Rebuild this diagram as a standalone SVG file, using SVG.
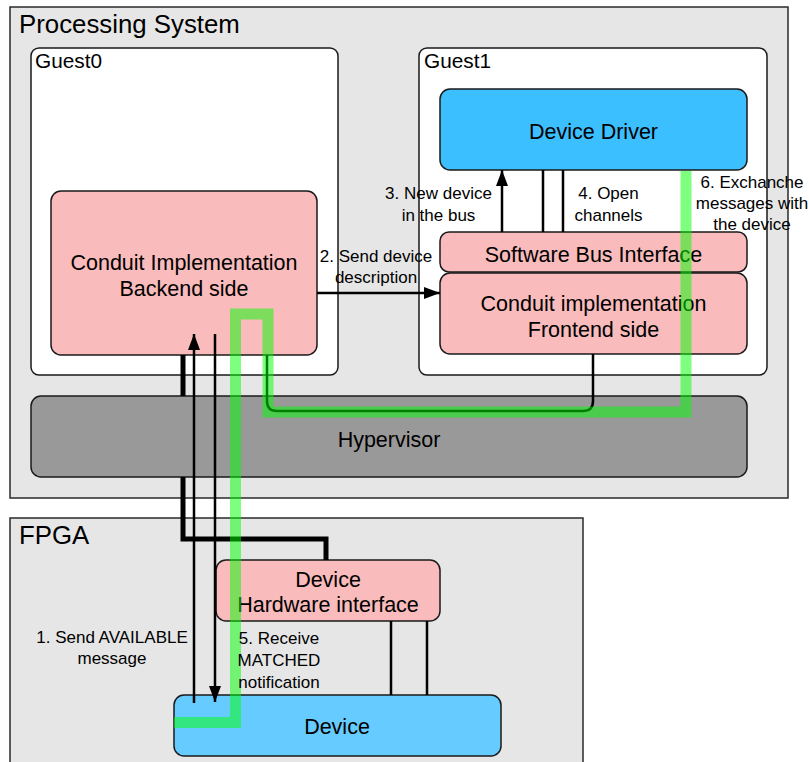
<svg xmlns="http://www.w3.org/2000/svg" width="809" height="762" viewBox="0 0 809 762">
<defs>
<style>
text{font-family:"Liberation Sans",Arial,Helvetica,sans-serif;fill:#000}
.big{font-size:25.8px}
.guest{font-size:20.8px}
.lbl{font-size:21.5px;text-anchor:middle}
.sm{font-size:17px;text-anchor:middle}
.cont{fill:#e6e6e6;stroke:#2a2a2a;stroke-width:1.5}
.gbox{fill:#ffffff;stroke:#1a1a1a;stroke-width:1.5}
.pink{fill:#f9bbbb;stroke:#1a1a1a;stroke-width:1.5}
.blue{fill:#3cbfff;stroke:#1a1a1a;stroke-width:1.5}
.lblue{fill:#66ccff;stroke:#1a1a1a;stroke-width:1.5}
.hyp{fill:#999999;stroke:#1a1a1a;stroke-width:1.5}
.ln{fill:none;stroke:#000;stroke-width:2.5}
.thick{fill:none;stroke:#000;stroke-width:5}
.green{fill:none;stroke:#00ff00;stroke-opacity:0.5;stroke-width:11;stroke-linejoin:miter}
</style>
<marker id="ah" markerUnits="userSpaceOnUse" markerWidth="16" markerHeight="12" refX="16" refY="6" orient="auto">
<path d="M0,0 L16,6 L0,12 Z" fill="#000"/>
</marker>
</defs>

<g id="processing-system">
<rect class="cont" x="10" y="7" width="778" height="491"/>
<text class="big" x="19" y="33">Processing System</text>
</g>
<g id="guest0">
<rect class="gbox" x="31" y="48" width="307" height="327" rx="8"/>
<text class="guest" x="35" y="68">Guest0</text>
</g>
<g id="guest1">
<rect class="gbox" x="419" y="48" width="348" height="327" rx="8"/>
<text class="guest" x="424" y="68">Guest1</text>
</g>
<g id="conduit-backend">
<rect class="pink" x="51" y="191" width="266" height="164" rx="10"/>
<text class="lbl" x="184" y="270">Conduit Implementation</text>
<text class="lbl" x="184" y="296">Backend side</text>
</g>
<g id="device-driver">
<rect class="blue" x="440" y="89" width="307" height="81" rx="10"/>
<text class="lbl" x="593.5" y="139">Device Driver</text>
</g>
<g id="software-bus-interface">
<rect class="pink" x="440" y="232" width="307" height="40" rx="9"/>
<text class="lbl" x="593.5" y="262">Software Bus Interface</text>
</g>
<g id="conduit-frontend">
<rect class="pink" x="440" y="273" width="307" height="81" rx="10"/>
<text class="lbl" x="593.5" y="311">Conduit implementation</text>
<text class="lbl" x="593.5" y="337">Frontend side</text>
</g>
<g id="hypervisor">
<rect class="hyp" x="31" y="396" width="716" height="81" rx="10"/>
<text class="lbl" x="389" y="447">Hypervisor</text>
</g>
<g id="fpga">
<rect class="cont" x="10" y="518" width="573" height="250"/>
<text class="big" x="19" y="544">FPGA</text>
</g>
<g id="hardware-interface">
<rect class="pink" x="216" y="560" width="224" height="61" rx="10"/>
<text class="lbl" x="328" y="587">Device</text>
<text class="lbl" x="328" y="612">Hardware interface</text>
</g>
<g id="device">
<rect class="lblue" x="174" y="695" width="327" height="61" rx="10"/>
<text class="lbl" x="337" y="734">Device</text>
</g>

<g id="connectors">
<path class="thick" d="M183,355 V396"/>
<path class="thick" d="M183,477 V539 H326 V560"/>
<path class="ln" d="M317,293 H440" marker-end="url(#ah)"/>
<path class="ln" d="M502,232 V170" marker-end="url(#ah)"/>
<path class="ln" d="M543,170 V232 M563,170 V232"/>
<path class="ln" d="M194,703 V334" marker-end="url(#ah)"/>
<path class="ln" d="M215,334 V702" marker-end="url(#ah)"/>
<path class="ln" d="M391,621 V695 M427,621 V695"/>
<path class="ln" d="M593,354 V401 Q593,411 583,411 H277 Q267,411 267,401 V355"/>
<path class="green" d="M174,722.5 H235.5 V314 H268 V412 H686 V171"/>
</g>

<g id="labels">
<text class="sm" x="376" y="262">2. Send device</text>
<text class="sm" x="376" y="283">description</text>
<text class="sm" x="438.5" y="199">3. New device</text>
<text class="sm" x="438.5" y="221">in the bus</text>
<text class="sm" x="608.5" y="199">4. Open</text>
<text class="sm" x="608.5" y="221">channels</text>
<text class="sm" x="752" y="188">6. Exchanche</text>
<text class="sm" x="752" y="209">messages with</text>
<text class="sm" x="752" y="230">the device</text>
<text class="sm" x="112" y="643">1. Send AVAILABLE</text>
<text class="sm" x="112" y="664">message</text>
<text class="sm" x="279" y="644">5. Receive</text>
<text class="sm" x="279" y="666">MATCHED</text>
<text class="sm" x="279" y="688">notification</text>
</g>
</svg>
